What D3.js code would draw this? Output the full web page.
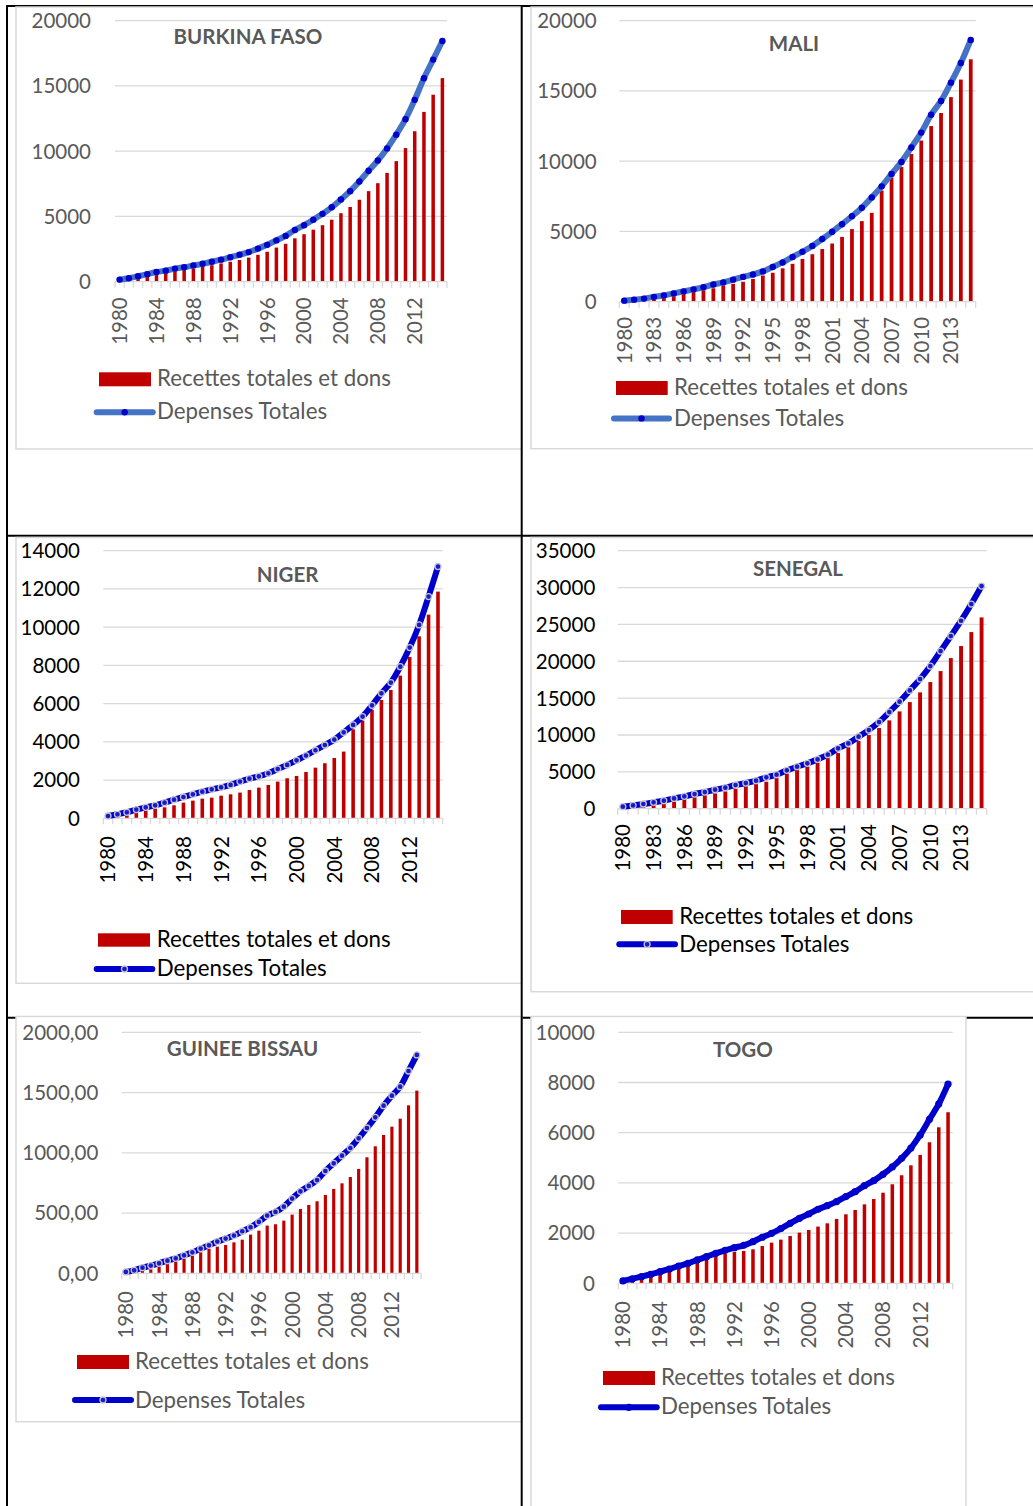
<!DOCTYPE html>
<html lang="fr">
<head>
<meta charset="UTF-8">
<title>Recettes totales et dons / Depenses Totales</title>
<script src="https://d3js.org/d3.v7.min.js"></script>
<style>
  body { margin: 0; background: white; }
  svg { display: block; font-family: Lato, "Open Sans", sans-serif; }
  .grid { stroke: #d9d9d9; stroke-width: 1.3; }
  .frame { fill: white; stroke: #d9d9d9; stroke-width: 1.5; }
  .table { stroke: black; stroke-width: 2; }
  .title { font-weight: bold; fill: #595959; font-size: 20.5px; }
  .tick { font-size: 20.5px; }
  .leg { font-size: 22.3px; }
</style>
</head>
<body>
<script>
const years = [1980,1981,1982,1983,1984,1985,1986,1987,1988,1989,1990,1991,1992,1993,1994,1995,1996,1997,
               1998,1999,2000,2001,2002,2003,2004,2005,2006,2007,2008,2009,2010,2011,2012,2013,2014,2015];

const seriesNames = ["Recettes totales et dons", "Depenses Totales"];

// Burkina Faso
const bfRecettes = [60,150,340,475,610,740,870,925,975,1135,1265,1400,1530,1665,1845,2060,2295,2615,2905,3325,3640,3985,4330,4750,5250,5725,6280,6940,7550,8340,9240,10240,11530,13010,14330,15600];
const bfDepenses = [160,265,420,580,740,845,1005,1110,1240,1370,1530,1690,1875,2060,2270,2535,2825,3165,3510,3960,4330,4750,5200,5700,6305,6940,7680,8500,9290,10215,11270,12455,13935,15595,17020,18445];
// Mali
const maliRecettes = [30,60,100,145,245,390,565,685,810,955,1150,1275,1420,1620,1865,2060,2375,2695,3040,3380,3750,4140,4610,5170,5735,6325,7915,8850,9585,10515,11470,12500,13430,14560,15810,17255];
const maliDepenses = [75,145,220,345,440,590,735,880,1030,1225,1375,1570,1765,1935,2155,2475,2795,3185,3555,3970,4460,4975,5515,6080,6690,7425,8210,9095,9950,10980,12035,13310,14290,15590,16985,18630];
// Niger
const nigerRecettes = [30,100,175,295,400,505,575,680,820,925,1030,1080,1185,1255,1345,1480,1605,1745,1920,2095,2215,2425,2650,2880,3155,3490,4655,5110,5670,6190,6715,7465,8440,9520,10655,11860];
const nigerDepenses = [120,210,315,455,575,680,820,975,1115,1255,1395,1515,1620,1745,1920,2075,2195,2355,2580,2790,3035,3280,3560,3835,4115,4500,4885,5320,5910,6540,7100,7935,8930,10115,11600,13170];
// Senegal
const senRecettes = [100,250,450,635,860,1085,1355,1630,1855,2080,2350,2710,3075,3345,3660,4160,4745,5290,5740,6240,6915,7550,8320,9180,9990,10940,11980,13200,14465,15780,17180,18670,20435,22065,23960,25950];
const senDepenses = [270,450,635,860,1085,1400,1675,1990,2260,2575,2850,3210,3480,3800,4250,4610,5200,5695,6150,6690,7325,8185,8860,9765,10670,11755,13110,14515,16050,17585,19350,21385,23420,25500,27760,30200];
// Guinee Bissau
const gbRecettes = [5,12,25,33,55,77,105,127,147,174,202,221,235,257,279,321,354,396,407,437,487,534,567,598,650,700,747,799,866,963,1054,1148,1217,1283,1394,1516];
const gbDepenses = [11,25,47,64,83,105,124,149,174,205,232,263,288,313,349,382,426,479,509,553,620,680,725,774,849,913,976,1040,1120,1206,1294,1391,1474,1549,1679,1812];
// Togo
const togoRecettes = [40,100,200,265,370,490,635,770,875,985,1090,1180,1250,1290,1355,1485,1620,1740,1885,2020,2125,2260,2390,2565,2750,2920,3145,3360,3610,3945,4305,4700,5115,5620,6215,6815];
const togoDepenses = [95,175,265,360,465,570,690,795,930,1060,1195,1315,1420,1515,1660,1835,1990,2180,2390,2590,2760,2950,3095,3255,3455,3650,3890,4090,4345,4635,4980,5390,5910,6535,7145,7940];

// page layout (pixels), kept apart from the data
const panels = [
  { title: "BURKINA FASO", rec: bfRecettes, dep: bfDepenses, yMax: 20000, yStep: 5000, every: 4,
    frame: [16, 7, 521.7, 449], plot: [115, 447, 281.7, 20.7], tickX: 91, titlePos: [248, 36.7], labGap: 15.6,
    leg: { rect: [99, 372.3, 52, 14], tx: 157, b1: 386, ly: 412.3, lx: [96.7, 152.7], b2: 419.3 },
    lineColor: "#4472c4", marker: "dot", ink: "#595959" },
  { title: "MALI", rec: maliRecettes, dep: maliDepenses, yMax: 20000, yStep: 5000, every: 3,
    frame: [531, 7, 1045, 448.7], plot: [619.3, 975.7, 301.7, 20.7], tickX: 596.7, titlePos: [794, 44], labGap: 15.1,
    leg: { rect: [616, 381, 51.7, 14], tx: 674, b1: 395, ly: 418.4, lx: [614, 669], b2: 426.3 },
    lineColor: "#4472c4", marker: "dot", ink: "#595959" },
  { title: "NIGER", rec: nigerRecettes, dep: nigerDepenses, yMax: 14000, yStep: 2000, every: 4,
    frame: [16, 537.5, 521.7, 983.3], plot: [103.3, 442.7, 818.3, 550.7], tickX: 80, titlePos: [287.5, 574.5], labGap: 17.7,
    leg: { rect: [98, 933.3, 52, 13.4], tx: 156.7, b1: 946.7, ly: 969, lx: [96.7, 152.3], b2: 976 },
    lineColor: "#0000cc", marker: "ring", ink: "#000000" },
  { title: "SENEGAL", rec: senRecettes, dep: senDepenses, yMax: 35000, yStep: 5000, every: 3,
    frame: [531, 537.5, 1045, 991.7], plot: [617.7, 986.7, 808.7, 550.7], tickX: 595.3, titlePos: [798, 568.5], labGap: 15.3,
    leg: { rect: [621, 910, 51.7, 14], tx: 679.3, b1: 924, ly: 944.3, lx: [619.3, 675], b2: 951.7 },
    lineColor: "#0000cc", marker: "ring", ink: "#000000" },
  { title: "GUINEE BISSAU", rec: gbRecettes, dep: gbDepenses, yMax: 2000, yStep: 500, every: 4, decimals: true,
    frame: [16, 1016.5, 521.7, 1421.7], plot: [121.7, 421, 1273.3, 1032.3], tickX: 98.3, titlePos: [242.5, 1048.5], labGap: 17.7,
    leg: { rect: [77, 1355, 52, 14], tx: 135, b1: 1369, ly: 1400, lx: [75, 131], b2: 1408.3 },
    lineColor: "#0000cc", marker: "ring", ink: "#595959" },
  { title: "TOGO", rec: togoRecettes, dep: togoDepenses, yMax: 10000, yStep: 2000, every: 4,
    frame: [531, 1016.5, 966, 1530], plot: [618.3, 952.7, 1283.3, 1032.3], tickX: 595, titlePos: [742.8, 1049.3], labGap: 17.7,
    leg: { rect: [603, 1371, 52, 14], tx: 661, b1: 1385, ly: 1407.3, lx: [601, 656.7], b2: 1414.3 },
    lineColor: "#0000cc", marker: "same", ink: "#595959" }
];

const W = 1033, H = 1506;
const svg = d3.select("body").append("svg").attr("width", W).attr("height", H);

// table rules
const table = svg.append("g");
[[6, 6, W, 6], [6, 535.7, W, 535.7], [6, 1017.7, W, 1017.7]].forEach(l =>
  table.append("line").attr("class", "table").attr("x1", l[0]).attr("y1", l[1]).attr("x2", l[2]).attr("y2", l[3]));

function fmt(p) {
  if (p.decimals) return d => d3.format(".2f")(d).replace(".", ",");
  return d3.format("d");
}

panels.forEach(p => {
  const g = svg.append("g");
  const [fx0, fy0, fx1, fy1] = p.frame;
  g.append("rect").attr("class", "frame")
    .attr("x", fx0).attr("y", fy0).attr("width", fx1 - fx0).attr("height", fy1 - fy0);

  const [px0, px1, py0, pyTop] = p.plot;
  const x = d3.scaleBand().domain(years).range([px0, px1]).paddingInner(0.62).paddingOuter(0.31);
  const y = d3.scaleLinear().domain([0, p.yMax]).range([py0, pyTop]);
  const step = (px1 - px0) / years.length;
  const ticks = d3.range(0, p.yMax + 1, p.yStep);

  // gridlines
  g.selectAll(".gl").data(ticks.slice(1)).join("line").attr("class", "grid")
    .attr("x1", px0).attr("x2", px1).attr("y1", d => y(d)).attr("y2", d => y(d));

  // y labels
  g.selectAll(".yl").data(ticks).join("text").attr("class", "tick")
    .attr("x", p.tickX).attr("y", d => y(d)).attr("dy", "0.36em")
    .attr("text-anchor", "end").attr("fill", p.ink).text(fmt(p));

  // bars
  g.selectAll(".bar").data(p.rec).join("rect")
    .attr("x", (d, i) => x(years[i])).attr("width", x.bandwidth())
    .attr("y", d => y(d)).attr("height", d => py0 - y(d))
    .attr("fill", "#c00000");

  // x axis with a tick at every band edge
  g.append("line").attr("class", "grid").attr("x1", px0).attr("x2", px1).attr("y1", py0).attr("y2", py0);
  g.selectAll(".xt").data(d3.range(years.length + 1)).join("line").attr("class", "grid")
    .attr("x1", i => px0 + i * step).attr("x2", i => px0 + i * step)
    .attr("y1", py0).attr("y2", py0 + 6);

  g.selectAll(".xl").data(years.filter((d, i) => i % p.every === 0)).join("text").attr("class", "tick")
    .attr("transform", d => `translate(${x(d) + x.bandwidth() / 2},${py0 + p.labGap}) rotate(-90)`)
    .attr("dy", "0.36em").attr("text-anchor", "end").attr("fill", p.ink).text(d => d);

  // line
  const cx = (d, i) => x(years[i]) + x.bandwidth() / 2;
  const line = d3.line().x(cx).y(d => y(d)).curve(d3.curveCatmullRom.alpha(0.5));
  g.append("path").datum(p.dep).attr("d", line)
    .attr("fill", "none").attr("stroke", p.lineColor).attr("stroke-width", 6)
    .attr("stroke-linecap", "round").attr("stroke-linejoin", "round");

  function marker(sel) {
    if (p.marker === "dot") sel.attr("r", 3.2).attr("fill", "#0000cc");
    else if (p.marker === "ring") sel.attr("r", 3).attr("fill", "#1a1acc").attr("stroke", "#c4c4cc").attr("stroke-width", 1.3);
    else sel.attr("r", 3.6).attr("fill", "#0000cc");
  }
  g.selectAll(".mk").data(p.dep).join("circle")
    .attr("cx", cx).attr("cy", d => y(d)).call(marker);

  // legend
  const L = p.leg;
  g.append("rect").attr("x", L.rect[0]).attr("y", L.rect[1]).attr("width", L.rect[2]).attr("height", L.rect[3])
    .attr("fill", "#c00000");
  g.append("text").attr("class", "leg").attr("x", L.tx).attr("y", L.b1).attr("fill", p.ink).text(seriesNames[0]);
  g.append("line").attr("x1", L.lx[0]).attr("x2", L.lx[1]).attr("y1", L.ly).attr("y2", L.ly)
    .attr("stroke", p.lineColor).attr("stroke-width", 6).attr("stroke-linecap", "round");
  g.append("circle").attr("cx", (L.lx[0] + L.lx[1]) / 2).attr("cy", L.ly).call(marker);
  g.append("text").attr("class", "leg").attr("x", L.tx).attr("y", L.b2).attr("fill", p.ink).text(seriesNames[1]);

  // title
  g.append("text").attr("class", "title").attr("x", p.titlePos[0]).attr("y", p.titlePos[1])
    .attr("dy", "0.36em").attr("text-anchor", "middle").text(p.title);
});

// vertical table rules drawn over the charts
[[7, 5, 7, H], [521.7, 5, 521.7, H]].forEach(l =>
  svg.append("line").attr("class", "table").attr("x1", l[0]).attr("y1", l[1]).attr("x2", l[2]).attr("y2", l[3]));
</script>
</body>
</html>
